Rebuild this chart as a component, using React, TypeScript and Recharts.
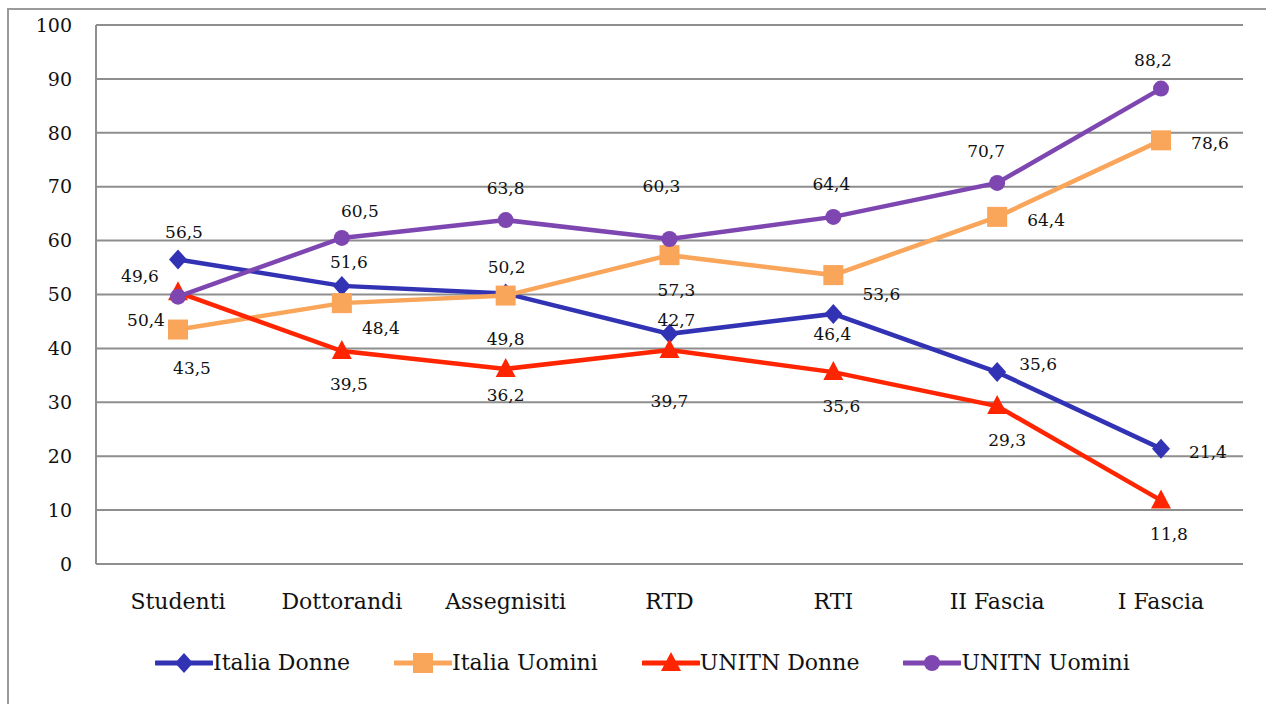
import React from "react";
import { LineChart, Line, XAxis, YAxis, CartesianGrid, LabelList } from "recharts";

const categories = ["Studenti", "Dottorandi", "Assegnisiti", "RTD", "RTI", "II Fascia", "I Fascia"];
const italiaDonne = [56.5, 51.6, 50.2, 42.7, 46.4, 35.6, 21.4];
const italiaUomini = [43.5, 48.4, 49.8, 57.3, 53.6, 64.4, 78.6];
const unitnDonne = [50.4, 39.5, 36.2, 39.7, 35.6, 29.3, 11.8];
const unitnUomini = [49.6, 60.5, 63.8, 60.3, 64.4, 70.7, 88.2];
const yTicks = [0, 10, 20, 30, 40, 50, 60, 70, 80, 90, 100];

const data = categories.map((name, i) => ({
  name,
  italiaDonne: italiaDonne[i],
  italiaUomini: italiaUomini[i],
  unitnDonne: unitnDonne[i],
  unitnUomini: unitnUomini[i],
}));

const FONT = "'DejaVu Serif', serif";
const GRID = "#8e8e8e";

type Marker = "diamond" | "square" | "triangle" | "circle";

// label placement relative to each point (like Excel's hand-placed labels)
const series: { key: string; name: string; color: string; marker: Marker; offsets: [number, number][] }[] = [
  {
    key: "italiaDonne",
    name: "Italia Donne",
    color: "#3232b4",
    marker: "diamond",
    offsets: [[6, -27], [7, -24], [1, -26], [7, -14], [-1, 20], [41, -8], [47, 3]],
  },
  {
    key: "italiaUomini",
    name: "Italia Uomini",
    color: "#f9a55a",
    marker: "square",
    offsets: [[14, 38], [39, 25], [0, 43], [7, 35], [48, 19], [49, 3], [49, 3]],
  },
  {
    key: "unitnDonne",
    name: "UNITN Donne",
    color: "#ff2500",
    marker: "triangle",
    offsets: [[-32, 28], [7, 33], [0, 26], [0, 51], [8, 34], [10, 34], [8, 34]],
  },
  {
    key: "unitnUomini",
    name: "UNITN Uomini",
    color: "#7e46b0",
    marker: "circle",
    offsets: [[-38, -21], [18, -27], [0, -32], [-8, -53], [-2, -33], [-11, -32], [-8, -29]],
  },
];

const drawMarker = (marker: Marker, cx: number, cy: number, color: string, key?: string) => {
  if (marker === "diamond")
    return <polygon key={key} points={`${cx},${cy - 10} ${cx + 9},${cy} ${cx},${cy + 10} ${cx - 9},${cy}`} fill={color} />;
  if (marker === "square") return <rect key={key} x={cx - 10} y={cy - 10} width={20} height={20} fill={color} />;
  if (marker === "triangle")
    return <polygon key={key} points={`${cx},${cy - 11} ${cx + 10},${cy + 8} ${cx - 10},${cy + 8}`} fill={color} />;
  return <circle key={key} cx={cx} cy={cy} r={8} fill={color} />;
};

const fmt = (v: number) => v.toFixed(1).replace(".", ",");

export default function App() {
  return (
    <div
      style={{
        position: "absolute",
        left: 0,
        top: 0,
        width: 1266,
        height: 704,
        overflow: "hidden",
        background: "#fff",
        fontFamily: FONT,
      }}
    >
      <div
        style={{
          position: "absolute",
          left: 7,
          top: 8,
          width: 1400,
          height: 900,
          border: "2px solid #9a9a9a",
          boxSizing: "border-box",
        }}
      />
      <div style={{ position: "absolute", left: 0, top: 0 }}>
        <LineChart width={1266} height={704} data={data} margin={{ top: 25, right: 23, left: 0, bottom: 0 }}>
          <CartesianGrid vertical={false} stroke={GRID} strokeWidth={2} />
          <XAxis
            dataKey="name"
            height={140}
            padding={{ left: 82, right: 82 }}
            tickLine={false}
            tickSize={0}
            tickMargin={29}
            axisLine={{ stroke: GRID, strokeWidth: 2 }}
            tick={{ fontSize: 22, fill: "#111", fontFamily: FONT }}
            interval={0}
          />
          <YAxis
            width={96}
            domain={[0, 100]}
            ticks={yTicks}
            interval={0}
            tickLine={false}
            tickSize={0}
            tickMargin={24}
            axisLine={{ stroke: GRID, strokeWidth: 2 }}
            tick={{ fontSize: 19, fill: "#111", fontFamily: FONT }}
          />
          {series.map((s) => (
            <Line
              key={s.key}
              dataKey={s.key}
              name={s.name}
              stroke={s.color}
              strokeWidth={4.5}
              isAnimationActive={false}
              dot={(p: any) => drawMarker(s.marker, p.cx, p.cy, s.color, `${s.key}-dot-${p.index}`)}
              activeDot={false}
            >
              <LabelList
                dataKey={s.key}
                content={(p: any) => {
                  const off = s.offsets[p.index] || [0, -20];
                  return (
                    <text
                      x={Number(p.x) + off[0]}
                      y={Number(p.y) + off[1]}
                      textAnchor="middle"
                      dominantBaseline="central"
                      fontSize={17}
                      fontFamily={FONT}
                      fill="#111"
                    >
                      {fmt(Number(p.value))}
                    </text>
                  );
                }}
              />
            </Line>
          ))}
        </LineChart>
      </div>
      <div
        style={{
          position: "absolute",
          left: 155,
          top: 650,
          display: "flex",
          alignItems: "center",
          gap: 44,
          fontSize: 22,
          color: "#111",
          whiteSpace: "nowrap",
        }}
      >
        {series.map((s) => (
          <div key={s.key} style={{ display: "flex", alignItems: "center" }}>
            <svg width={58} height={24} style={{ display: "block" }}>
              <line x1={1} y1={12} x2={57} y2={12} stroke={s.color} strokeWidth={5} strokeLinecap="round" />
              {drawMarker(s.marker, 29, 12, s.color)}
            </svg>
            <span>{s.name}</span>
          </div>
        ))}
      </div>
    </div>
  );
}
